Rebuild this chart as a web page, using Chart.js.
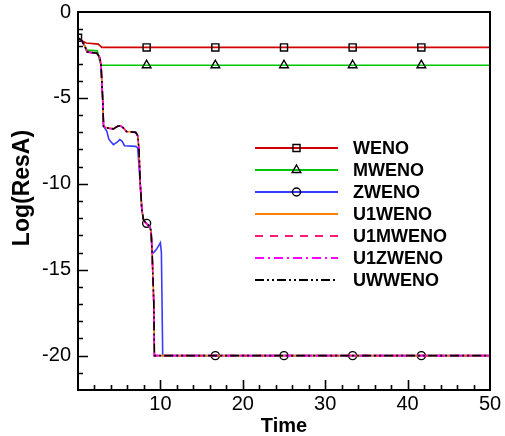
<!DOCTYPE html>
<html>
<head>
<meta charset="utf-8">
<script src="https://cdn.jsdelivr.net/npm/chart.js@4/dist/chart.umd.min.js"></script>
<style>
html,body{margin:0;padding:0;background:#fff;}
#wrap{width:505px;height:436px;position:relative;}
</style>
</head>
<body>
<div id="wrap"><canvas id="c" width="505" height="436"></canvas></div>
<script>
// ---- data ----
const seriesNames = ['WENO','MWENO','ZWENO','U1WENO','U1MWENO','U1ZWENO','UWWENO'];

const timeWENO = [0, 0.5, 1.0, 2.45, 2.9, 8.33, 16.67, 25, 33.33, 41.67, 50];
const valWENO  = [-1.5, -1.68, -1.8, -1.87, -2.06, -2.06, -2.06, -2.06, -2.06, -2.06, -2.06];
const markWENO = [0, 8.33, 16.67, 25, 33.33, 41.67];

const timeMWENO = [0, 0.5, 0.9, 1.1, 2.35, 2.55, 2.8, 8.33, 16.67, 25, 33.33, 41.67, 50];
const valMWENO  = [-1.5, -1.7, -2.05, -2.22, -2.26, -2.7, -3.1, -3.1, -3.1, -3.1, -3.1, -3.1, -3.1];
const markMWENO = [8.33, 16.67, 25, 33.33, 41.67];

const timeZWENO = [0, 0.5, 0.9, 1.1, 2.3, 2.65, 2.8, 3.0, 3.1, 3.5, 3.73, 3.94, 4.3, 4.75, 5.07, 5.36, 5.64, 7.0, 7.25, 7.4, 7.55, 7.75, 7.95, 8.33, 8.7, 8.87, 9.03, 9.27, 9.6, 10.0, 10.12, 10.28, 16.67, 25, 33.33, 41.67, 50];
const valZWENO  = [-1.5, -1.68, -2.07, -2.32, -2.4, -2.65, -3.14, -5.1, -6.65, -6.94, -7.39, -7.52, -7.72, -7.58, -7.43, -7.53, -7.78, -7.82, -7.91, -8.99, -9.96, -11.5, -12.1, -12.3, -12.46, -12.7, -14.05, -13.96, -13.76, -13.43, -14.0, -20, -20, -20, -20, -20, -20];
const markZWENO = [8.33, 16.67, 25, 33.33, 41.67];

const timeU1WENO = [0, 0.5, 0.9, 1.1, 2.3, 2.65, 2.8, 3.0, 3.1, 3.45, 4.3, 4.8, 5.15, 5.5, 5.9, 7.0, 7.25, 7.4, 7.55, 7.75, 7.95, 8.3, 8.7, 8.87, 9.0, 9.2, 9.27, 50];
const valU1WENO  = [-1.5, -1.68, -2.07, -2.32, -2.4, -2.65, -3.14, -5.1, -6.65, -6.74, -6.8, -6.65, -6.61, -6.74, -6.96, -7.0, -7.19, -8.0, -9.96, -11.5, -12.1, -12.3, -12.46, -12.8, -14.05, -16.96, -20, -20];

const timeU1MWENO = [0, 0.5, 0.9, 1.1, 2.3, 2.65, 2.8, 3.0, 3.1, 3.45, 4.3, 4.8, 5.15, 5.5, 5.9, 7.0, 7.25, 7.4, 7.55, 7.75, 7.95, 8.3, 8.7, 8.87, 9.0, 9.2, 9.27, 50];
const valU1MWENO  = [-1.5, -1.7, -2.08, -2.33, -2.42, -2.66, -3.16, -5.12, -6.66, -6.75, -6.8, -6.66, -6.62, -6.75, -6.97, -7.01, -7.2, -8.02, -9.98, -11.52, -12.12, -12.32, -12.48, -12.82, -14.08, -17.0, -20, -20];

const timeU1ZWENO = [0, 0.5, 0.9, 1.1, 2.3, 2.65, 2.8, 3.0, 3.1, 3.45, 4.3, 4.8, 5.15, 5.5, 5.9, 7.0, 7.25, 7.4, 7.55, 7.75, 7.95, 8.3, 8.7, 8.87, 9.0, 9.2, 9.27, 50];
const valU1ZWENO  = [-1.5, -1.69, -2.08, -2.33, -2.41, -2.66, -3.15, -5.11, -6.66, -6.75, -6.81, -6.66, -6.62, -6.75, -6.97, -7.01, -7.2, -8.01, -9.97, -11.51, -12.11, -12.31, -12.47, -12.81, -14.06, -16.98, -20, -20];

const timeUWWENO = [0, 0.5, 0.9, 1.1, 2.3, 2.65, 2.8, 3.0, 3.1, 3.45, 4.3, 4.8, 5.15, 5.5, 5.9, 7.0, 7.25, 7.4, 7.55, 7.75, 7.95, 8.3, 8.7, 8.87, 9.0, 9.2, 9.27, 50];
const valUWWENO  = [-1.5, -1.68, -2.07, -2.32, -2.4, -2.65, -3.14, -5.1, -6.65, -6.74, -6.8, -6.65, -6.61, -6.74, -6.96, -7.0, -7.19, -8.0, -9.96, -11.5, -12.1, -12.3, -12.46, -12.8, -14.05, -16.96, -20, -20];

const xTickLabels = [10, 20, 30, 40, 50];
const yTickLabels = [0, -5, -10, -15, -20];

// ---- build chart ----
const FONT = "'Liberation Sans', Arial, Helvetica, sans-serif";
function pts(t, v) { return t.map((x, i) => ({x: x, y: v[i]})); }
function near(list, x) { return list.some(m => Math.abs(m - x) < 1e-6); }

const specs = [
  {t: timeWENO, v: valWENO, color: '#d00000', dash: [], marks: markWENO, style: 'rect', r: 5},
  {t: timeMWENO, v: valMWENO, color: '#00c800', dash: [], marks: markMWENO, style: 'triangle', r: 5},
  {t: timeZWENO, v: valZWENO, color: '#3a3aff', dash: [], marks: markZWENO, style: 'circle', r: 4},
  {t: timeU1WENO, v: valU1WENO, color: '#ff8000', dash: [], marks: [], style: 'circle', r: 0},
  {t: timeU1MWENO, v: valU1MWENO, color: '#ff1a7a', dash: [8, 7], marks: [], style: 'circle', r: 0},
  {t: timeU1ZWENO, v: valU1ZWENO, color: '#ff00ff', dash: [9, 4, 2, 4], marks: [], style: 'circle', r: 0},
  {t: timeUWWENO, v: valUWWENO, color: '#000000', dash: [9, 3, 2, 3, 2, 3], marks: [], style: 'circle', r: 0}
];

const datasets = specs.map((s, i) => ({
  label: seriesNames[i],
  data: pts(s.t, s.v),
  borderColor: s.color,
  borderWidth: 1.6,
  borderDash: s.dash,
  fill: false,
  tension: 0,
  order: specs.length - i,
  pointStyle: s.style,
  pointBackgroundColor: 'rgba(0,0,0,0)',
  pointBorderColor: '#000',
  pointBorderWidth: 1.4,
  pointRadius: ctx => (ctx.raw && near(s.marks, ctx.raw.x)) ? s.r : 0,
  pointHoverRadius: 0,
  _legendRadius: s.r
}));

const decor = {
  id: 'decor',
  afterDraw(chart) {
    const ctx = chart.ctx;
    const a = chart.chartArea;
    const xs = chart.scales.x, ys = chart.scales.y;
    ctx.save();
    // frame
    ctx.strokeStyle = '#000';
    ctx.lineWidth = 2;
    ctx.strokeRect(a.left, a.top, a.right - a.left, a.bottom - a.top);
    // inward ticks
    ctx.lineWidth = 1.6;
    ctx.beginPath();
    for (let v = 2; v < 50; v += 2) {
      const px = Math.round(xs.getPixelForValue(v)) + 0.5;
      const len = (v % 10 === 0) ? 10 : 5;
      ctx.moveTo(px, a.bottom); ctx.lineTo(px, a.bottom - len);
    }
    for (let v = -21; v < 0; v += 1) {
      const py = Math.round(ys.getPixelForValue(v)) + 0.5;
      const len = (v % 5 === 0) ? 10 : 5;
      ctx.moveTo(a.left, py); ctx.lineTo(a.left + len, py);
    }
    ctx.stroke();
    // axis titles
    ctx.fillStyle = '#000';
    ctx.font = 'bold 20px ' + FONT;
    ctx.textAlign = 'center';
    ctx.textBaseline = 'alphabetic';
    ctx.fillText('Time', (a.left + a.right) / 2, 432);
    ctx.save();
    ctx.translate(29, 188);
    ctx.rotate(-Math.PI / 2);
    ctx.font = 'bold 23px ' + FONT;
    ctx.fillText('Log(ResA)', 0, 0);
    ctx.restore();
    // legend
    const x0 = 255, x1 = 338, xt = 353, y0 = 148, dy = 22;
    chart.data.datasets.forEach((d, i) => {
      const y = y0 + i * dy;
      ctx.save();
      ctx.strokeStyle = d.borderColor;
      ctx.lineWidth = 2;
      ctx.setLineDash(d.borderDash);
      ctx.beginPath(); ctx.moveTo(x0, y); ctx.lineTo(x1, y); ctx.stroke();
      ctx.setLineDash([]);
      if (d._legendRadius > 0) {
        ctx.strokeStyle = '#000';
        ctx.fillStyle = 'rgba(0,0,0,0)';
        ctx.lineWidth = 1.4;
        Chart.helpers.drawPoint(ctx, {pointStyle: d.pointStyle, radius: d._legendRadius, rotation: 0, borderWidth: 1.4}, (x0 + x1) / 2, y);
      }
      ctx.fillStyle = '#000';
      ctx.font = 'bold 18px ' + FONT;
      ctx.textAlign = 'left';
      ctx.textBaseline = 'middle';
      ctx.fillText(d.label, xt, y + 1);
      ctx.restore();
    });
    ctx.restore();
  }
};

new Chart(document.getElementById('c'), {
  type: 'line',
  data: {datasets: datasets},
  options: {
    responsive: false,
    animation: false,
    events: [],
    layout: {padding: {left: 0, top: 12, right: 15, bottom: 0}},
    plugins: {legend: {display: false}, tooltip: {enabled: false}},
    scales: {
      x: {
        type: 'linear', min: 0, max: 50,
        afterFit: s => { s.height = 46; s.paddingLeft = 0; s.paddingRight = 0; },
        grid: {display: false, drawTicks: false},
        border: {display: false},
        ticks: {
          stepSize: 10, includeBounds: false, padding: 2, color: '#000',
          font: {family: FONT, size: 20},
          callback: v => xTickLabels.includes(v) ? String(v) : ''
        }
      },
      y: {
        type: 'linear', min: -22, max: 0,
        afterFit: s => { s.width = 78; s.paddingTop = 0; s.paddingBottom = 0; },
        grid: {display: false, drawTicks: false},
        border: {display: false},
        ticks: {
          stepSize: 5, includeBounds: false, padding: 7, color: '#000',
          font: {family: FONT, size: 20},
          callback: v => yTickLabels.includes(v) ? String(v) : ''
        }
      }
    }
  },
  plugins: [decor]
});
</script>
</body>
</html>
